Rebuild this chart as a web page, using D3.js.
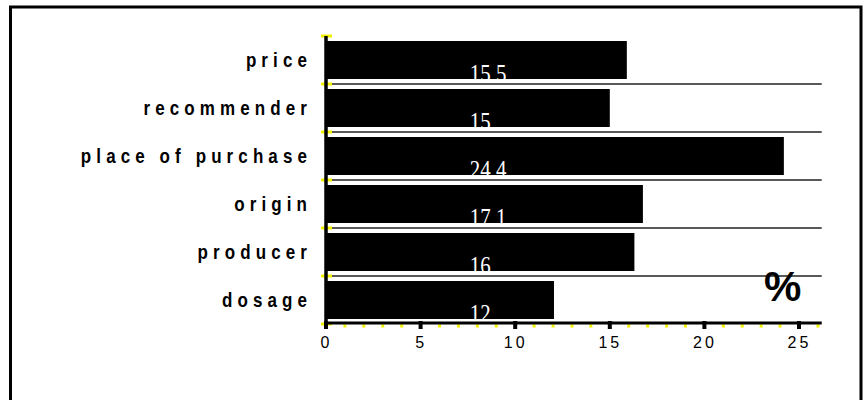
<!DOCTYPE html>
<html>
<head>
<meta charset="utf-8">
<script src="https://cdn.jsdelivr.net/npm/d3@7"></script>
<style>
  body { margin: 0; background: #fff; }
  .catLabel { font-family: "Liberation Sans", Arial, sans-serif; font-weight: bold; font-size: 17px; letter-spacing: 5.1px; }
  .tickLabel { font-family: "Liberation Sans", Arial, sans-serif; font-size: 16px; letter-spacing: 3px; }
  .valueLabel { font-family: "Liberation Serif", "Times New Roman", serif; font-size: 22px; fill: #fff; }
  .unit { font-family: "Liberation Sans", Arial, sans-serif; font-weight: bold; font-size: 42px; }
</style>
</head>
<body>
<div id="canvas"></div>
<script>
"use strict"
let svgWidth = 863;
let svgHeight = 400;

// categories top to bottom
let categories = ["price", "recommender", "place of purchase", "origin", "producer", "dosage"];
// bar lengths as drawn (%)
let values = [15.9, 15.0, 24.2, 16.75, 16.3, 12.05];
// the numbers printed on the bars
let valueLabels = ["15.5", "15", "24.4", "17.1", "16", "12"];
// x axis ticks
let xTicks = [0, 5, 10, 15, 20, 25];
let xMax = 26.2;

let svg = d3.select("#canvas")
    .append("svg")
    .attr("width", svgWidth)
    .attr("height", svgHeight);

// outer frame (bottom edge is off the picture)
svg.append("rect")
    .attr("x", 10.5)
    .attr("y", 7)
    .attr("width", 850.5)
    .attr("height", 420)
    .attr("fill", "#fff")
    .attr("stroke", "#000")
    .attr("stroke-width", 3);

let x = d3.scaleLinear()
    .domain([0, 25])
    .range([326, 799]);

let y = d3.scaleBand()
    .domain(categories)
    .range([36, 324])
    .paddingInner(10 / 48)
    .paddingOuter(5 / 48);

let step = y.step();
let axisY = 323;

// gridlines between the bars
let bounds = categories.slice(1).map(function(c){ return y(c) - y.paddingInner() * step / 2; });
svg.selectAll(".grid")
    .data(bounds)
    .join("line")
    .attr("x1", x(0) + 6)
    .attr("x2", x(xMax))
    .attr("y1", function(d){ return d; })
    .attr("y2", function(d){ return d; })
    .attr("stroke", "#222")
    .attr("stroke-width", 1.3);

// bars
svg.selectAll(".bar")
    .data(categories)
    .join("rect")
    .attr("x", x(0))
    .attr("y", function(d){ return y(d); })
    .attr("width", function(d, i){ return x(values[i]) - x(0); })
    .attr("height", y.bandwidth())
    .attr("fill", "#000");

// value labels, white, sitting on the bar bottom (a bit tall and narrow)
svg.selectAll(".valueLabel")
    .data(categories)
    .join("text")
    .attr("class", "valueLabel")
    .attr("transform", function(d){
        return "translate(" + x(7.6) + "," + (y(d) + y.bandwidth() + 2.5) + ") scale(0.95,1.1)";
    })
    .text(function(d, i){ return valueLabels[i]; });

// category labels, slightly stretched vertically
svg.selectAll(".catLabel")
    .data(categories)
    .join("text")
    .attr("class", "catLabel")
    .attr("transform", function(d){
        return "translate(312," + (y(d) + y.bandwidth() / 2 + 7) + ") scale(1,1.18)";
    })
    .attr("text-anchor", "end")
    .text(function(d){ return d; });

// yellow marks on the y axis at band edges
let edges = d3.range(categories.length + 1).map(function(i){ return 36 + i * step; });
svg.selectAll(".yDot")
    .data(edges)
    .join("line")
    .attr("x1", x(0) - 5)
    .attr("x2", x(0) + 6)
    .attr("y1", function(d){ return d; })
    .attr("y2", function(d){ return d; })
    .attr("stroke", "#f2f200")
    .attr("stroke-width", 3);

// yellow minor dots on x axis
svg.selectAll(".xDot")
    .data(d3.range(0, Math.floor(xMax) + 1))
    .join("rect")
    .attr("x", function(d){ return x(d) - 1.5; })
    .attr("y", axisY + 1.5)
    .attr("width", 3)
    .attr("height", 3)
    .attr("fill", "#f2f200");

// y axis line
svg.append("line")
    .attr("x1", x(0))
    .attr("x2", x(0))
    .attr("y1", 36)
    .attr("y2", axisY + 3)
    .attr("stroke", "#000")
    .attr("stroke-width", 3.5);

// x axis
let xAxis = d3.axisBottom(x)
    .tickValues(xTicks)
    .tickSize(0)
    .tickPadding(14);

let gx = svg.append("g")
    .attr("transform", "translate(0," + axisY + ")")
    .call(xAxis);
gx.select(".domain").remove();
gx.attr("font-family", null).attr("font-size", null);
gx.selectAll("text")
    .attr("class", "tickLabel")
    .attr("fill", "#000");

svg.append("line")
    .attr("x1", x(0))
    .attr("x2", x(xMax))
    .attr("y1", axisY)
    .attr("y2", axisY)
    .attr("stroke", "#000")
    .attr("stroke-width", 3);

svg.selectAll(".majorTick")
    .data(xTicks)
    .join("rect")
    .attr("x", function(d){ return x(d) - 2; })
    .attr("y", axisY - 2)
    .attr("width", 4)
    .attr("height", 8)
    .attr("fill", "#000");

// unit sign
svg.append("text")
    .attr("class", "unit")
    .attr("x", 764)
    .attr("y", 301)
    .text("%");
</script>
</body>
</html>
